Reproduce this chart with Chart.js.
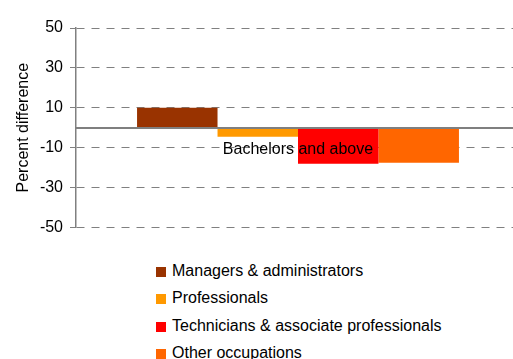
<!DOCTYPE html>
<html>
<head>
<meta charset="utf-8">
<script src="https://cdn.jsdelivr.net/npm/chart.js@4"></script>
<style>
  html, body { margin: 0; padding: 0; background: #fff; overflow: hidden; }
  #wrap { position: relative; width: 522px; height: 244px; }
  #legend { position: absolute; left: 156px; top: 262px; font: 16px "Liberation Sans", Arial, sans-serif; color: #000; }
  #legend div { height: 27.4px; line-height: 18px; white-space: nowrap; }
  #legend span.box { display: inline-block; width: 10px; height: 10px; margin-right: 6px; vertical-align: -1px; }
</style>
</head>
<body>
<div id="wrap"><canvas id="chart" width="522" height="244"></canvas></div>
<div id="legend"></div>
<script>
const categories = ["Bachelors and above"];
const occupations = [
  "Managers & administrators",
  "Professionals",
  "Technicians & associate professionals",
  "Other occupations"
];
const percentDiff = [10, -4.6, -18.1, -17.6];
const barColors = ["#993300", "#FF9900", "#FF0000", "#FF6600"];
const yTicks = [-50, -30, -10, 10, 30, 50];

const font = { family: "'Liberation Sans', Arial, sans-serif", size: 16 };

const chart = new Chart(document.getElementById("chart"), {
  type: "bar",
  data: {
    labels: categories,
    datasets: occupations.map((name, i) => ({
      label: name,
      data: [percentDiff[i]],
      backgroundColor: barColors[i],
      borderWidth: 0,
      categoryPercentage: 0.725,
      barPercentage: 1
    }))
  },
  options: {
    responsive: false,
    animation: false,
    layout: { padding: { top: 28, bottom: 12, left: 0, right: 2 } },
    plugins: {
      legend: { display: false },
      tooltip: { enabled: false }
    },
    scales: {
      x: {
        position: { y: 0 },
        grid: { display: false, drawTicks: false },
        border: { color: "#7f7f7f", width: 2, z: 1 },
        ticks: { color: "#000", font: font, padding: 12, z: 1, autoSkip: false, maxRotation: 0 }
      },
      y: {
        min: yTicks[0],
        max: yTicks[yTicks.length - 1],
        afterBuildTicks: (s) => { s.ticks = yTicks.map((v) => ({ value: v })); },
        afterFit: (s) => { s.width = 76; },
        grid: { color: "#808080", lineWidth: 1, tickLength: 6 },
        border: { color: "#808080", width: 1.5, dash: [8, 7] },
        ticks: { color: "#000", font: font, padding: 7 },
        title: {
          display: true,
          text: "Percent difference",
          color: "#000",
          font: font,
          padding: { top: 14, bottom: 0 }
        }
      }
    }
  }
});

// legend as a single column under the plot
const legendEl = document.getElementById("legend");
chart.options.plugins.legend.labels.generateLabels(chart).forEach((item) => {
  const row = document.createElement("div");
  const box = document.createElement("span");
  box.className = "box";
  box.style.background = item.fillStyle;
  row.appendChild(box);
  row.appendChild(document.createTextNode(item.text));
  legendEl.appendChild(row);
});
</script>
</body>
</html>
